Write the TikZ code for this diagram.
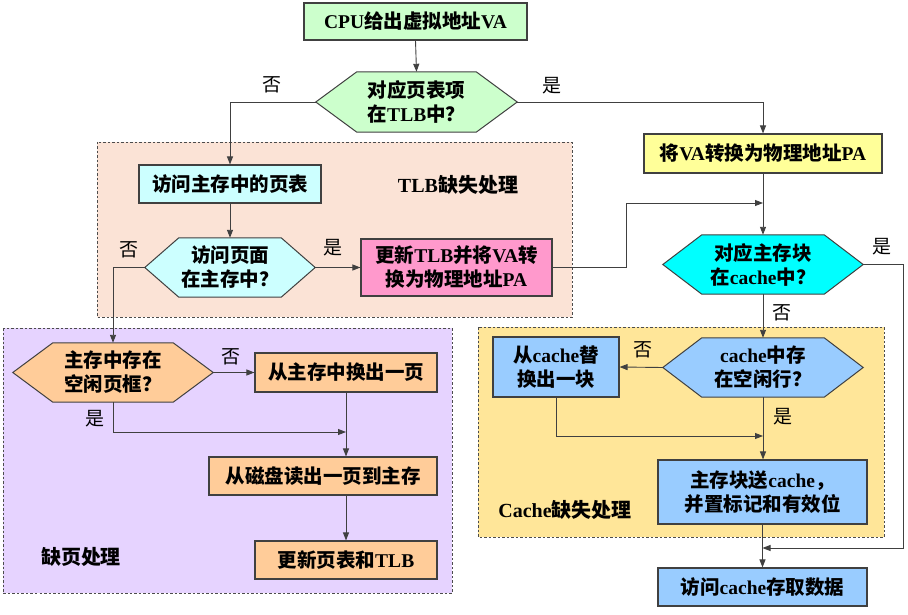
\documentclass[tikz,border=0pt]{standalone}
\usepackage{fontspec}
\setmainfont{Liberation Serif}
\newfontfamily\cjk{Noto Sans CJK SC}
\usetikzlibrary{arrows.meta,backgrounds,calc}
\newcommand\zh[1]{{\cjk #1}}
\newcommand\zhl[1]{{\cjk\mdseries #1}}
\definecolor{cgreen}{HTML}{CCFFCC}
\definecolor{cpeach}{HTML}{FBE3D6}
\definecolor{clcyan}{HTML}{CCFFFF}
\definecolor{cpink}{HTML}{FF99CC}
\definecolor{cyell}{HTML}{FFFF99}
\definecolor{ccyan}{HTML}{00FFFF}
\definecolor{ccache}{HTML}{FFE699}
\definecolor{cblue}{HTML}{99CCFF}
\definecolor{cpurp}{HTML}{E6D3FF}
\definecolor{corange}{HTML}{FFCC99}
\definecolor{cline}{HTML}{404040}
\tikzset{
  txt/.style={font=\fontsize{19.5}{24}\selectfont\bfseries, align=center, inner sep=0pt},
  box/.style 2 args={txt, draw=cline, line width=1.1pt, minimum width=#1pt, minimum height=#2pt},
  hexn/.style 2 args={txt, draw=none, minimum width=#1pt, minimum height=#2pt},
  hexline/.style={draw=cline, line width=1pt},
  region/.style={draw=black!70, dashed, line width=0.7pt, dash pattern=on 2.5pt off 2pt},
  conn/.style={draw=black!75, line width=0.9pt},
  arr/.style={conn, -{Triangle[length=8pt,width=6pt]}},
  lbl/.style={font=\fontsize{19}{22}\selectfont, inner sep=0pt},
  title/.style={font=\fontsize{20}{24}\selectfont\bfseries, inner sep=0pt},
}
\newcommand\hexpath[3]{%
  \draw[hexline, fill=#3] (#1.west) -- ([xshift=#2pt]#1.north west) -- ([xshift=-#2pt]#1.north east) -- (#1.east) -- ([xshift=-#2pt]#1.south east) -- ([xshift=#2pt]#1.south west) -- cycle;}
\begin{document}
\begin{tikzpicture}[x=1pt,y=-1pt]
\useasboundingbox (0,0) rectangle (908,615);
% regions
\begin{scope}[on background layer]
  \fill[white] (0,0) rectangle (908,615);
  \draw[region, fill=cpeach] (97,142) rectangle (572,317);
  \draw[region, fill=cpurp] (3,328) rectangle (452,593);
  \draw[region, fill=ccache] (478,327) rectangle (884,537);
\end{scope}
% boxes
\node[box={223}{37}, fill=cgreen] (CPU) at (415.5,21.5) {CPU\zh{给出虚拟地址}VA};
\node[hexn={201}{60}] (H1) at (416.5,102) {\zh{对应页表项}\\\zh{在}TLB\zh{中？}};
\node[box={182}{38}, fill=clcyan] (B1) at (230,184) {\zh{访问主存中的页表}};
\node[hexn={170}{59}] (H2) at (230,267.5) {\zh{访问页面}\\\zh{在主存中？}};
\node[box={191}{57}, fill=cpink] (P) at (456.5,267.5) {\zh{更新}TLB\zh{并将}VA\zh{转}\\\zh{换为物理地址}PA};
\node[box={238}{39}, fill=cyell] (Y) at (763,153.5) {\zh{将}VA\zh{转换为物理地址}PA};
\node[hexn={200}{59}] (C) at (763,264.5) {\zh{对应主存块}\\\zh{在}cache\zh{中？}};
\node[hexn={200}{59}] (H3) at (763,367.5) {cache\zh{中存}\\\zh{在空闲行？}};
\node[box={126}{60}, fill=cblue] (R) at (556,367) {\zh{从}cache\zh{替}\\\zh{换出一块}};
\node[box={209}{64}, fill=cblue] (M) at (762.5,492) {\zh{主存块送}cache\zh{，}\\\zh{并置标记和有效位}};
\node[box={209}{38}, fill=cblue] (F) at (762.5,587) {\zh{访问}cache\zh{存取数据}};
\node[hexn={200}{59}] (H4) at (113,372.5) {\zh{主存中存在}\\\zh{空闲页框？}};
\node[box={182}{39}, fill=corange] (O1) at (346,372.5) {\zh{从主存中换出一页}};
\node[box={228}{38}, fill=corange] (O2) at (323,476) {\zh{从磁盘读出一页到主存}};
\node[box={182}{38}, fill=corange] (O3) at (346,560) {\zh{更新页表和}TLB};
% hexagon outlines
\begin{scope}[on background layer]
  \hexpath{H1}{41}{cgreen}
  \hexpath{H2}{34}{clcyan}
  \hexpath{C}{39}{ccyan}
  \hexpath{H3}{39}{cblue}
  \hexpath{H4}{40}{corange}
\end{scope}
% titles
\node[title] (t1) at (458,185) {TLB\zh{缺失处理}};
\node[title] (t2) at (81,557) {\zh{缺页处理}};
\node[title] (t3) at (565,510) {Cache\zh{缺失处理}};
% labels
\node[lbl] (l1) at (272,85) {\zhl{否}};
\node[lbl] (l2) at (552,86) {\zhl{是}};
\node[lbl] (l3) at (129,250) {\zhl{否}};
\node[lbl] (l4) at (333,248) {\zhl{是}};
\node[lbl] (l5) at (882,247) {\zhl{是}};
\node[lbl] (l6) at (782,313) {\zhl{否}};
\node[lbl] (l7) at (643,350) {\zhl{否}};
\node[lbl] (l8) at (783,417) {\zhl{是}};
\node[lbl] (l9) at (231,357) {\zhl{否}};
\node[lbl] (l10) at (95,419) {\zhl{是}};
% junction coordinates
\coordinate (j1) at (626,203);
\coordinate (j2) at (903,548);
\coordinate (j3) at (763,436);
\coordinate (j4) at (346,432);
% connectors
\draw[arr] (CPU.south) -- (H1.north);
\draw[arr] (H1.west) -| (B1.north);
\draw[arr] (H1.east) -| (Y.north);
\draw[arr] (B1.south) -- (H2.north);
\draw[arr] (H2.east) -- (P.west);
\draw[arr] (H2.west) -| (H4.north);
\draw[arr] (P.east) -| (j1) -- (Y.south |- j1);
\draw[arr] (Y.south) -- (C.north);
\draw[arr] (C.east) -| (j2) -- (F.north |- j2);
\draw[arr] (C.south) -- (H3.north);
\draw[arr] (H3.west) -- (R.east);
\draw[arr] (R.south) |- (j3);
\draw[arr] (H3.south) -- (H3.south |- M.north);
\draw[arr] (M.south) -- (F.north);
\draw[arr] (H4.east) -- (O1.west);
\draw[arr] (H4.south) |- (j4);
\draw[arr] (O1.south) -- (O1.south |- O2.north);
\draw[arr] (O2.south -| O3.north) -- (O3.north);
\end{tikzpicture}
\end{document}
